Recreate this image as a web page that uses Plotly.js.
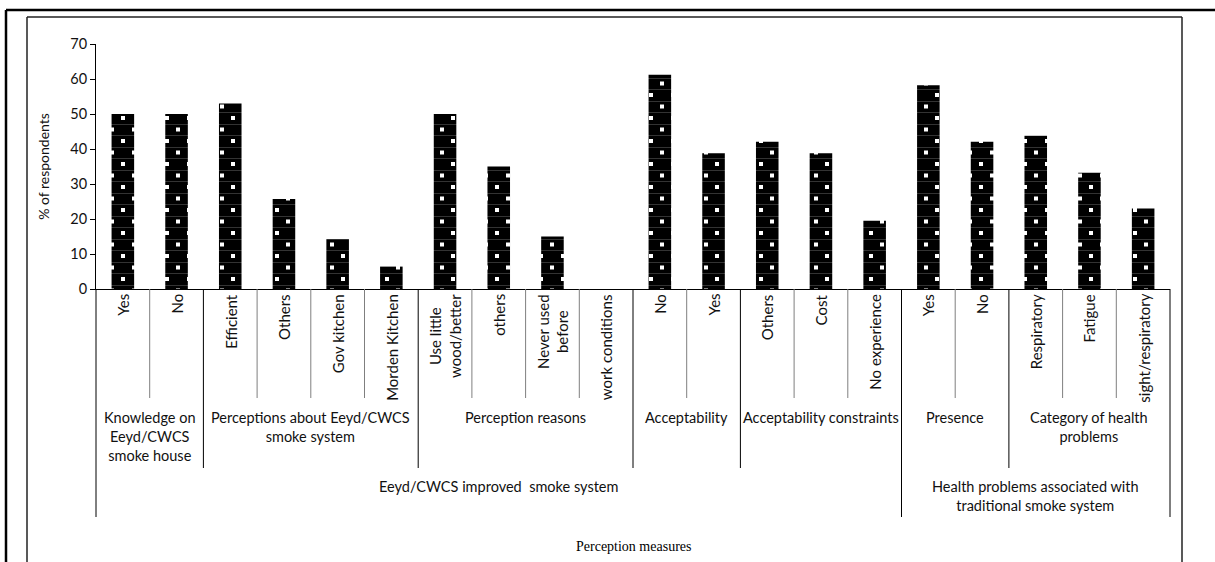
<!DOCTYPE html>
<html>
<head>
<meta charset="utf-8">
<script src="https://cdn.plot.ly/plotly-3.0.1.min.js"></script>
<style>
html,body{margin:0;padding:0;background:#fff;}
#chart{width:1215px;height:562px;}
</style>
</head>
<body>
<div id="chart"></div>
<script>
// ---- data ----
const categories = ['Yes','No','Efficient','Others','Gov kitchen','Morden Kitchen',
  'Use little<br>wood/better','others','Never used<br>before','work conditions',
  'No','Yes','Others','Cost','No experience','Yes','No','Respiratory','Fatigue','sight/respiratory'];
const values = [50,50,53,25.7,14.3,6.4,50,35,15,0,61.2,38.8,42.1,38.8,19.5,58.2,42.1,43.8,33.2,23];
const groupLabels = ['Knowledge on<br>Eeyd/CWCS<br>smoke house','Perceptions about Eeyd/CWCS<br>smoke system',
  'Perception reasons','Acceptability','Acceptability constraints','Presence','Category of health<br>problems'];
const groupSizes = [2,4,4,2,3,2,3];
const sectionLabels = ['Eeyd/CWCS improved  smoke system','Health problems associated with<br>traditional smoke system'];
const sectionSizes = [15,5];
const yTicks = [0,10,20,30,40,50,60,70];
const yTitle = '% of respondents';
const xTitle = 'Perception measures';

// ---- layout helpers ----
const W=1215,H=562,ML=96,MR=45,MT=44,MB=273;
const PW=W-ML-MR, PH=H-MT-MB;
const fx = px => (px-ML)/PW;
const fy = py => (H-MB-py)/PH;
const n = categories.length;
const FONT = 'Lato, "Open Sans", sans-serif';
const TXT = '#111';

const idx = categories.map((_,i)=>i);

function cumBounds(sizes){
  const b=[0]; let s=0; sizes.forEach(v=>{s+=v;b.push(s);}); return b;
}
const groupB = cumBounds(groupSizes);
const sectionB = cumBounds(sectionSizes);

const shapes = [];
for(let k=0;k<=n;k++){
  let bottom=398, color='#7f7f7f';
  if(sectionB.includes(k)){bottom=517;color='#000';}
  else if(groupB.includes(k)){bottom=468;color='#000';}
  shapes.push({type:'line',xref:'paper',yref:'paper',x0:k/n,x1:k/n,y0:0,y1:fy(bottom),
    line:{color:color,width:1}});
}
// frame borders
const bl = (x0,y0,x1,y1,w,c)=>({type:'line',xref:'paper',yref:'paper',x0:fx(x0),x1:fx(x1),y0:fy(y0),y1:fy(y1),line:{color:c,width:w}});
shapes.push(bl(6,10,1215,10,2.5,'#000'));
shapes.push(bl(6,10,6,562,2.5,'#000'));
shapes.push(bl(27,17,1182,17,1.5,'#222'));
shapes.push(bl(27,17,27,562,1.5,'#222'));
shapes.push(bl(1182,17,1182,562,1.5,'#222'));

const annotations = [];
categories.forEach((c,i)=>{
  annotations.push({x:i,xref:'x',y:fy(292),yref:'paper',yanchor:'top',xanchor:'center',
    text:c,textangle:-90,showarrow:false,align:'center',font:{family:FONT,size:15,color:TXT}});
});
function groupAnns(labels,bounds,topPy){
  labels.forEach((t,g)=>{
    const mid=(bounds[g]+bounds[g+1])/2/n;
    annotations.push({x:mid,xref:'paper',y:fy(topPy),yref:'paper',yanchor:'top',xanchor:'center',
      text:t,showarrow:false,align:'center',font:{family:FONT,size:14.5,color:TXT}});
  });
}
groupAnns(groupLabels,groupB,407);
groupAnns(sectionLabels,sectionB,476);
annotations.push({x:0.5,xref:'paper',y:fy(546),yref:'paper',yanchor:'middle',xanchor:'center',
  text:xTitle,showarrow:false,font:{family:'"Liberation Serif", "Times New Roman", serif',size:14,color:'#000'}});

const trace = {
  type:'bar', x:idx, y:values, width:0.42, hoverinfo:'skip',
  marker:{color:'#000', line:{color:'#000',width:0},
    pattern:{shape:'.', fgcolor:'#fff', bgcolor:'#000', size:11.5, solidity:0.12, fillmode:'replace'}}
};

const layout = {
  width:W,height:H,margin:{l:ML,r:MR,t:MT,b:MB,pad:0},
  paper_bgcolor:'#fff',plot_bgcolor:'#fff',showlegend:false,
  xaxis:{type:'linear',range:[-0.5,n-0.5],showticklabels:false,ticks:'',showline:true,
    linecolor:'#000',linewidth:1,showgrid:false,zeroline:false,automargin:false,fixedrange:true},
  yaxis:{range:[0,70],tickvals:yTicks,ticktext:yTicks.map(String),ticks:'outside',ticklen:5,tickcolor:'#000',
    showline:true,linecolor:'#000',linewidth:1,showgrid:false,zeroline:false,automargin:false,
    tickfont:{family:FONT,size:14.5,color:TXT},
    title:{text:yTitle,standoff:17,font:{family:FONT,size:14,color:TXT}}},
  shapes:shapes, annotations:annotations
};
Plotly.newPlot('chart',[trace],layout,{staticPlot:true,displayModeBar:false}).then(gd=>{
  // restyle the fill pattern tile into a staggered square-dot pattern (as in the reference)
  const NS='http://www.w3.org/2000/svg';
  gd.querySelectorAll('pattern').forEach(p=>{
    while(p.firstChild) p.removeChild(p.firstChild);
    p.setAttribute('width',22); p.setAttribute('height',23);
    const mk=(x,y,w,h,f)=>{const r=document.createElementNS(NS,'rect');
      r.setAttribute('x',x);r.setAttribute('y',y);r.setAttribute('width',w);r.setAttribute('height',h);
      r.setAttribute('fill',f);p.appendChild(r);};
    mk(0,0,22,23,'#000');
    mk(0,11,22,0.6,'#555'); mk(0,22.4,22,0.6,'#555');
    mk(3,3,4,4,'#fff'); mk(14,14.5,4,4,'#fff');
  });
});
</script>
</body>
</html>
